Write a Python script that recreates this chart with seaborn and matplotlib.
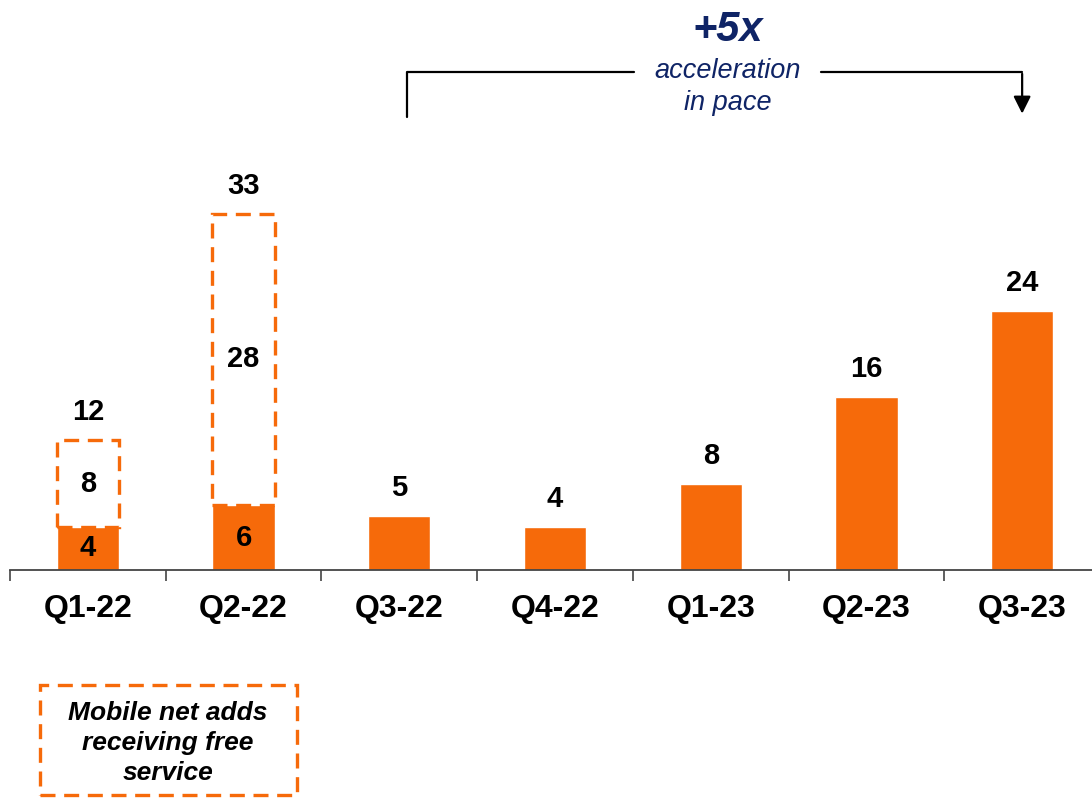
import matplotlib
matplotlib.use("Agg")
import matplotlib.pyplot as plt
import seaborn as sns
from matplotlib.patches import Rectangle

quarters = ["Q1-22", "Q2-22", "Q3-22", "Q4-22", "Q1-23", "Q2-23", "Q3-23"]
paid_adds = [4, 6, 5, 4, 8, 16, 24]
free_labels = [8, 28]
total_labels = [12, 33]

orange = "#F66A0A"
navy = "#0F2466"

sns.set_style("white")
plt.rcParams["font.family"] = ["Liberation Sans", "DejaVu Sans"]
plt.rcParams["text.color"] = "black"
plt.rcParams["xtick.color"] = "#444444"
plt.rcParams["xtick.labelcolor"] = "black"

fig = plt.figure(figsize=(10.92, 7.98), dpi=100)
ax = fig.add_axes([10 / 1092, 1 - 570 / 798, 1090 / 1092, 540 / 798])

sns.barplot(x=quarters, y=paid_adds, color=orange, saturation=1, width=0.4, ax=ax)

# dashed boxes for net adds receiving free service (drawn up to the reported total)
free_x = list(range(len(free_labels)))
free_heights = [t - p for t, p in zip(total_labels, paid_adds[:2])]
ax.bar(free_x, free_heights, bottom=paid_adds[:2], width=0.4, fill=False,
       edgecolor=orange, linewidth=2.4, linestyle=(0, (4.5, 2.6)))

# labels
fs = 21
for i, v in enumerate(paid_adds):
    if i < len(free_labels):
        ax.text(i, v / 2, str(v), ha="center", va="center", fontsize=fs, fontweight="bold")
        ax.text(i, v + free_heights[i] / 2, str(free_labels[i]), ha="center", va="center",
                fontsize=fs, fontweight="bold")
        ax.text(i, total_labels[i] + 1.3, str(total_labels[i]), ha="center", va="bottom",
                fontsize=fs, fontweight="bold")
    else:
        ax.text(i, v + 1.3, str(v), ha="center", va="bottom", fontsize=fs, fontweight="bold")

ax.set_xlim(-0.5, 6.5)
ax.set_ylim(0, 50)
ax.set_yticks([])
for s in ["top", "right", "left"]:
    ax.spines[s].set_visible(False)
ax.spines["bottom"].set_color("#444444")
ax.spines["bottom"].set_linewidth(1.3)
ax.set_xticks(range(len(quarters)))
ax.set_xticklabels(quarters, fontsize=23, fontweight="bold")
ax.tick_params(axis="x", which="major", bottom=True, length=0, pad=17)
ax.set_xticks([i - 0.5 for i in range(len(quarters) + 1)], minor=True)
ax.tick_params(axis="x", which="minor", bottom=True, length=8, width=1.2,
               color="#444444", direction="out")

# acceleration bracket
ax.plot([2.05, 2.05, 3.51], [41.9, 46.1, 46.1], color="black", lw=1.6, clip_on=False)
ax.plot([4.71, 6.0], [46.1, 46.1], color="black", lw=1.6, clip_on=False)
ax.annotate("", xy=(6.0, 42.0), xytext=(6.0, 46.2),
            arrowprops=dict(arrowstyle="-|>", color="black", lw=1.6, mutation_scale=26),
            annotation_clip=False)
ax.text(4.11, 50.0, "+5x", ha="center", va="center", fontsize=30, fontweight="bold",
        fontstyle="italic", color=navy)
ax.text(4.11, 44.7, "acceleration\nin pace", ha="center", va="center", fontsize=19.5,
        fontstyle="italic", color=navy, linespacing=1.28)

# legend box
fig.patches.append(Rectangle((40 / 1092, 1 - 795 / 798), 257 / 1092, 110 / 798,
                             transform=fig.transFigure, fill=False, edgecolor=orange,
                             linewidth=2.4, linestyle=(0, (4.5, 2.6))))
fig.text(168 / 1092, 1 - 743 / 798, "Mobile net adds\nreceiving free\nservice", ha="center",
         va="center", fontsize=19, fontweight="bold", fontstyle="italic", linespacing=1.3)

fig.savefig("out.png", dpi=100)
